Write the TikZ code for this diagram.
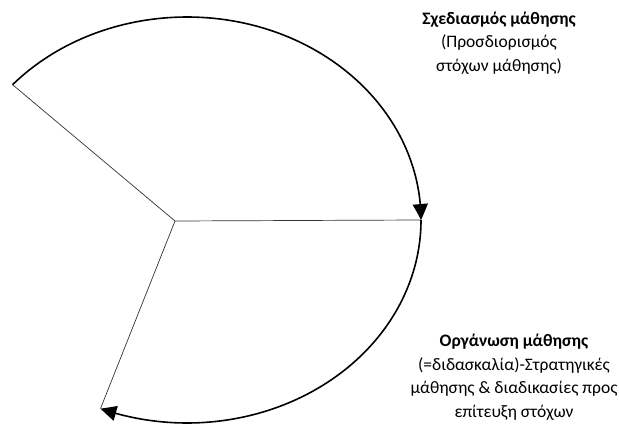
\documentclass[tikz,border=0pt]{standalone}
\usepackage{fontspec}
\setmainfont{Carlito}
\usetikzlibrary{arrows.meta,bending,calc}
\begin{document}
\begin{tikzpicture}[x=1pt,y=1pt,
  spoke/.style={draw=black!80,line width=0.7pt},
  cycle/.style={draw=black,line width=1.6pt,
    -{Triangle[length=16pt,width=15pt,bend]}},
  caption/.style={align=center,font=\fontsize{17.5}{23.5}\selectfont,inner sep=0pt}]
\useasboundingbox (0,0) rectangle (619,-425);
% centre of the ellipse carrying the two arcs, and the hub of the spokes
\coordinate (O) at (187,-220);
\coordinate (C) at (175,-221);
\coordinate (A) at ($(O)+(138.2:234pt and 203pt)$);
\coordinate (R) at ($(O)+(0:234pt and 203pt)$);
\coordinate (B) at ($(O)+(-111.7:234pt and 203pt)$);
% spokes
\draw[spoke] (C) -- (A);
\draw[spoke] (C) -- (R);
\draw[spoke] (C) -- (B);
% arcs
\draw[cycle] (A) arc[start angle=138.2,end angle=0,x radius=234pt,y radius=203pt];
\draw[cycle] (R) arc[start angle=0,end angle=-111.7,x radius=234pt,y radius=203pt];
% labels
\node[caption] (plan) at (499,-43) {\textbf{Σχεδιασμός μάθησης}\\(Προσδιορισμός\\στόχων μάθησης)};
\node[caption] (org) at (514,-377) {\textbf{Οργάνωση μάθησης}\\(=διδασκαλία)-Στρατηγικές\\μάθησης \& διαδικασίες προς\\επίτευξη στόχων};
\end{tikzpicture}
\end{document}
